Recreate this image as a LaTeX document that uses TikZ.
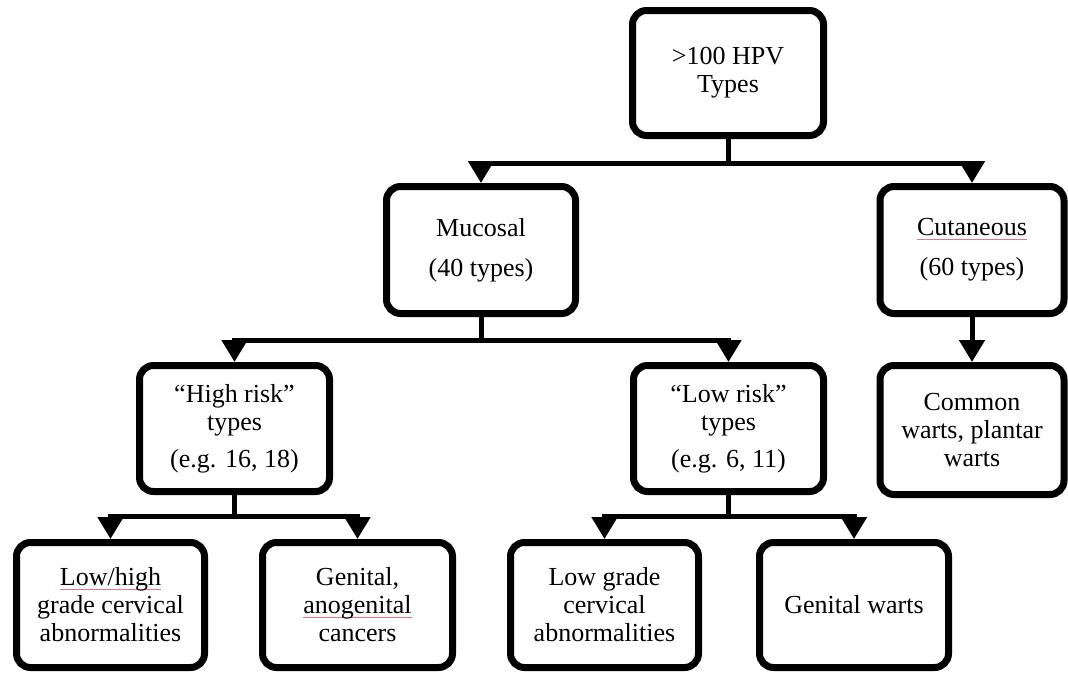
\documentclass[tikz,border=0pt]{standalone}
\usepackage{fontspec}
\setmainfont{Liberation Serif}
\usetikzlibrary{arrows.meta,shadows}
\definecolor{spellred}{RGB}{235,120,120}
\newcommand\spellmark[1]{\setbox0\hbox{#1}\rlap{\color{spellred}\rule[-3.5pt]{\wd0}{0.6pt}}#1}
\begin{document}
\begin{tikzpicture}[x=1pt,y=-1pt,
  box/.style={draw=black, line width=7pt, rounded corners=14pt, fill=white,
    align=center, font=\fontsize{26}{28}\selectfont, inner sep=0pt,
    drop shadow={shadow xshift=1.5pt, shadow yshift=-3pt, opacity=0.18}},
  conn/.style={line width=5pt},
  arr/.style={conn, -{Triangle[length=22pt,width=25pt]}}]
\useasboundingbox (0,0) rectangle (1068,672);

\node[box, minimum width=191pt, minimum height=125pt] (top) at (728,73) {>100 HPV\\Types};
\node[box, minimum width=189pt, minimum height=127pt] (muc) at (481,250) {Mucosal\\[12pt](40 types)};
\node[box, minimum width=184pt, minimum height=127pt] (cut) at (972,250) {\spellmark{Cutaneous}\\[12pt](60 types)};
\node[box, minimum width=190pt, minimum height=126pt] (hr) at (234.5,428.5) {“High risk”\\types\\[9pt](e.g. 16, 18)};
\node[box, minimum width=190pt, minimum height=126pt] (lr) at (728.5,428.5) {“Low risk”\\types\\[9pt](e.g. 6, 11)};
\node[box, minimum width=184pt, minimum height=129pt] (cw) at (972,430) {Common\\warts, plantar\\warts};
\node[box, minimum width=188pt, minimum height=125pt] (lh) at (110.5,605) {\spellmark{Low/high}\\grade cervical\\abnormalities};
\node[box, minimum width=190pt, minimum height=125pt] (gen) at (357.5,605) {Genital,\\\spellmark{anogenital}\\cancers};
\node[box, minimum width=188pt, minimum height=125pt] (lg) at (604.5,605) {Low grade\\cervical\\abnormalities};
\node[box, minimum width=189pt, minimum height=125pt] (gw) at (854,605) {Genital warts};

\coordinate (j1) at (728,163);
\coordinate (j2) at (481,340);
\coordinate (j3) at (234.5,516);
\coordinate (j4) at (728.5,516);

\draw[conn] (top.south) -- (j1);
\draw[arr] (j1) -| (muc.north);
\draw[arr] (j1) -| (cut.north);
\draw[arr] (cut.south) -- (cw.north);
\draw[conn] (muc.south) -- (j2);
\draw[arr] (j2) -| (hr.north);
\draw[arr] (j2) -| (lr.north);
\draw[conn] (hr.south) -- (j3);
\draw[arr] (j3) -| (lh.north);
\draw[arr] (j3) -| (gen.north);
\draw[conn] (lr.south) -- (j4);
\draw[arr] (j4) -| (lg.north);
\draw[arr] (j4) -| (gw.north);
\end{tikzpicture}
\end{document}
